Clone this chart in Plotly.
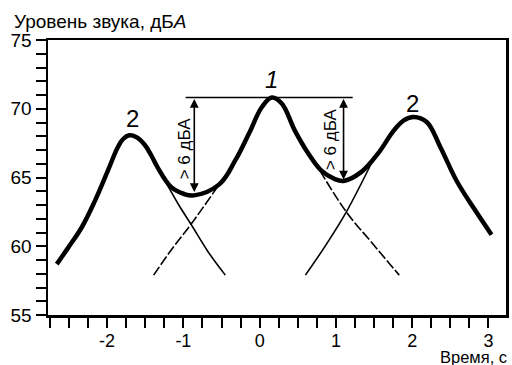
import plotly.graph_objects as go

# ---- data ----
# combined (thick) sound level curve
t_total = [-2.66, -2.51, -2.33, -2.16, -1.99, -1.86, -1.79, -1.71, -1.62, -1.51, -1.42, -1.34,
           -1.16, -0.99, -0.86, -0.53, -0.32, -0.14, 0.03, 0.16, 0.29, 0.46, 0.64, 0.81, 0.98,
           1.10, 1.33, 1.55, 1.76, 1.89, 2.02, 2.19, 2.37, 2.58, 2.80, 3.04]
db_total = [58.7, 59.9, 61.4, 63.3, 65.5, 67.2, 67.8, 68.07, 67.95, 67.4, 66.6, 65.75,
            64.3, 63.8, 63.7, 64.5, 66.24, 68.2, 70.13, 70.82, 70.38, 68.43, 66.73, 65.5, 64.9,
            64.75, 65.39, 66.73, 68.43, 69.16, 69.4, 69.04, 67.2, 64.78, 62.83, 60.84]

# tails of the individual events
t_left_tail = [-1.30, -1.23, -1.06, -0.90, -0.67, -0.45]
db_left_tail = [65.4, 64.66, 63.0, 61.6, 59.55, 57.9]
t_center_tail_l = [-1.39, -1.15, -0.90, -0.53]
db_center_tail_l = [57.9, 59.8, 61.6, 64.5]
t_right_tail = [0.60, 0.87, 1.137, 1.48]
db_right_tail = [57.9, 60.1, 62.5, 66.2]
t_center_tail_r = [0.79, 1.137, 1.48, 1.83]
db_center_tail_r = [65.5, 62.49, 60.2, 57.9]

# peak level reference line
t_level = [-0.97, 1.22]
db_level = [70.82, 70.82]

# > 6 dB arrows
arrow_t = [-0.857, 1.10]
arrow_low = [63.95, 64.85]
arrow_top = 70.82
arrow_text_t = [-0.99, 0.92]
arrow_text_db = [67.13, 67.78]
arrow_label = "> 6 дБА"

# event labels
event_t = [-1.667, 0.16, 2.005]
event_db = [69.3, 72.1, 70.4]
event_text = ["2", "<i>1</i>", "2"]

x_tickvals = [-2, -1, 0, 1, 2, 3]
x_ticktext = ["-2", "-1", "0", "1", "2", "3"]
y_tickvals = [55, 60, 65, 70, 75]
y_ticktext = ["55", "60", "65", "70", "75"]

title_text = "Уровень звука, дБ<i>А</i>"
xlabel_text = "Время, с"

FONT = "Liberation Sans, Arial, sans-serif"
DASH = "10px,2.5px"

fig = go.Figure()

fig.add_trace(go.Scatter(x=t_left_tail, y=db_left_tail, mode="lines",
                         line=dict(color="black", width=1.6, shape="spline"), hoverinfo="skip"))
fig.add_trace(go.Scatter(x=t_center_tail_l, y=db_center_tail_l, mode="lines",
                         line=dict(color="black", width=1.6, dash=DASH, shape="spline"), hoverinfo="skip"))
fig.add_trace(go.Scatter(x=t_right_tail, y=db_right_tail, mode="lines",
                         line=dict(color="black", width=1.6, shape="spline"), hoverinfo="skip"))
fig.add_trace(go.Scatter(x=t_center_tail_r, y=db_center_tail_r, mode="lines",
                         line=dict(color="black", width=1.6, dash=DASH, shape="spline"), hoverinfo="skip"))
fig.add_trace(go.Scatter(x=t_level, y=db_level, mode="lines",
                         line=dict(color="black", width=1.6), hoverinfo="skip"))
fig.add_trace(go.Scatter(x=t_total, y=db_total, mode="lines",
                         line=dict(color="black", width=4.5, shape="spline", smoothing=1.1),
                         hoverinfo="skip"))

annotations = []
for xt, lo in zip(arrow_t, arrow_low):
    annotations.append(dict(x=xt, y=lo, ax=xt, ay=arrow_top, xref="x", yref="y",
                            axref="x", ayref="y", text="", showarrow=True,
                            arrowhead=2, arrowside="end+start", arrowsize=1.1,
                            arrowwidth=1.6, arrowcolor="black", standoff=0, startstandoff=0))
for xt, yd in zip(arrow_text_t, arrow_text_db):
    annotations.append(dict(x=xt, y=yd, xref="x", yref="y", text=arrow_label,
                            showarrow=False, textangle=-90,
                            font=dict(family=FONT, size=17, color="black")))
for xt, yd, tx in zip(event_t, event_db, event_text):
    annotations.append(dict(x=xt, y=yd, xref="x", yref="y", text=tx, showarrow=False,
                            font=dict(family=FONT, size=24, color="black")))
annotations.append(dict(x=-0.078, y=1.068, xref="paper", yref="paper", text=title_text,
                        showarrow=False, xanchor="left", yanchor="middle",
                        font=dict(family=FONT, size=19, color="black")))
annotations.append(dict(x=1.006, y=-0.153, xref="paper", yref="paper", text=xlabel_text,
                        showarrow=False, xanchor="right", yanchor="middle",
                        font=dict(family=FONT, size=16.5, color="black")))

fig.update_layout(
    width=512, height=365,
    margin=dict(l=48, r=3, t=40, b=50),
    paper_bgcolor="white", plot_bgcolor="white",
    showlegend=False,
    annotations=annotations,
    font=dict(family=FONT, size=18, color="black"),
)
fig.update_xaxes(range=[-2.775, 3.23], tickvals=x_tickvals, ticktext=x_ticktext,
                 ticks="outside", ticklen=10, tickwidth=2, tickcolor="black",
                 minor=dict(dtick=0.25, tick0=0, ticks="outside", ticklen=10, tickwidth=2,
                            tickcolor="black", showgrid=False),
                 showline=True, linewidth=2.5, linecolor="black", mirror=True,
                 showgrid=False, zeroline=False, ticklabelstandoff=-2,
                 tickfont=dict(family=FONT, size=18, color="black"))
fig.update_yaxes(range=[55, 75], tickvals=y_tickvals, ticktext=y_ticktext,
                 ticks="outside", ticklen=10, tickwidth=2, tickcolor="black",
                 minor=dict(dtick=1, tick0=55, ticks="outside", ticklen=10, tickwidth=2,
                            tickcolor="black", showgrid=False),
                 showline=True, linewidth=2.5, linecolor="black", mirror=True,
                 showgrid=False, zeroline=False,
                 tickfont=dict(family=FONT, size=19, color="black"))

# remove the default page margin so the figure sits at the window's top-left corner
fig.write_html("out.html",
               config={"displayModeBar": False, "staticPlot": True},
               post_script="document.body.style.margin='0';document.body.style.overflow='hidden';")
